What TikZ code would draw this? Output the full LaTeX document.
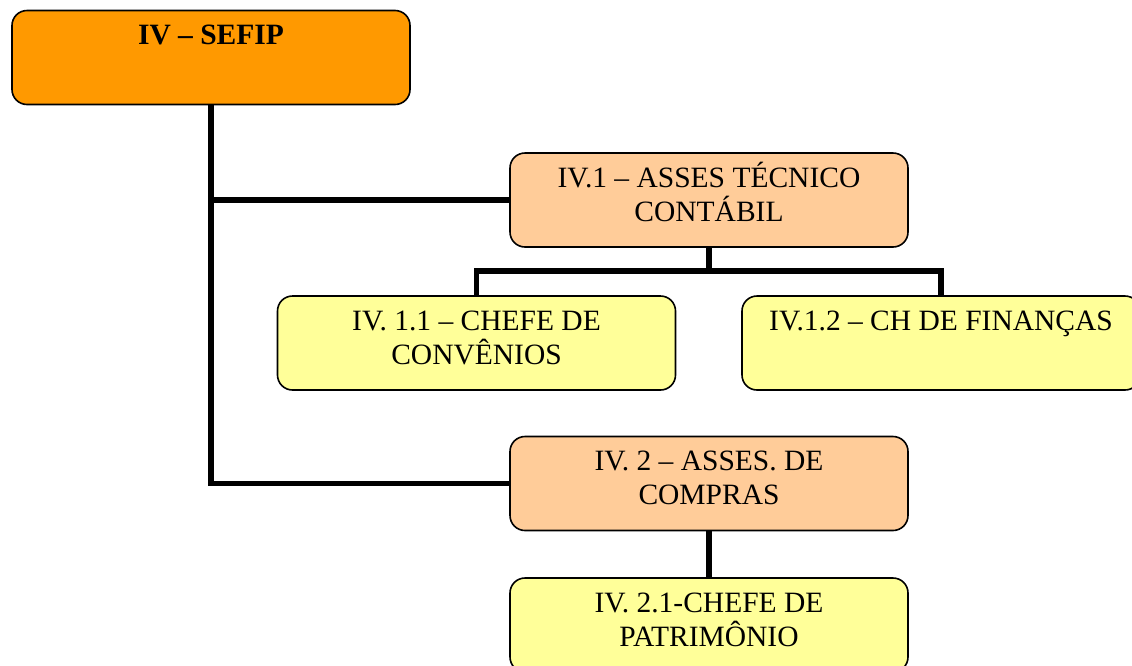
\documentclass[tikz,border=0pt]{standalone}
\usepackage{fontspec}
\setmainfont{Liberation Serif}
\definecolor{orgA}{HTML}{FF9900}
\definecolor{peach}{HTML}{FFCC99}
\definecolor{lyellow}{HTML}{FFFF99}
\tikzset{
  box/.style={draw=black, line width=1.6pt, rounded corners=15pt,
    minimum width=398pt, minimum height=94pt, inner sep=0pt,
    text height=0pt, text depth=26pt, anchor=center},
  conn/.style={line width=5.5pt, line cap=butt}
}
\newcommand{\boxtext}[1]{\parbox[t]{390pt}{\centering\fontsize{29.5}{34}\selectfont #1}}
\begin{document}
\begin{tikzpicture}[x=1pt,y=-1pt]
\useasboundingbox (0,0) rectangle (1132,665);
\node[box, fill=orgA] (sefip) at (211,57.5) {\boxtext{\bfseries IV – SEFIP}};
\node[box, fill=peach] (a1) at (709,200) {\boxtext{IV.1 – ASSES TÉCNICO\\CONTÁBIL}};
\node[box, fill=lyellow] (c11) at (476.5,343) {\boxtext{IV. 1.1 – CHEFE DE\\CONVÊNIOS}};
\node[box, fill=lyellow] (c12) at (941,343) {\boxtext{IV.1.2 – CH DE FINANÇAS}};
\node[box, fill=peach] (a2) at (709,483.5) {\boxtext{IV. 2 – ASSES. DE\\COMPRAS}};
\node[box, fill=lyellow] (p21) at (709,625) {\boxtext{IV. 2.1-CHEFE DE\\PATRIMÔNIO}};
\coordinate (j1) at (709,271);
\draw[conn] (sefip.south) |- (a2.west);
\draw[conn] (sefip.south |- a1.west) -- (a1.west);
\draw[conn] (a1.south) -- (j1);
\draw[conn] (j1) -| (c11.north);
\draw[conn] (j1) -| (c12.north);
\draw[conn] (a2.south) -- (p21.north);
\end{tikzpicture}
\end{document}
